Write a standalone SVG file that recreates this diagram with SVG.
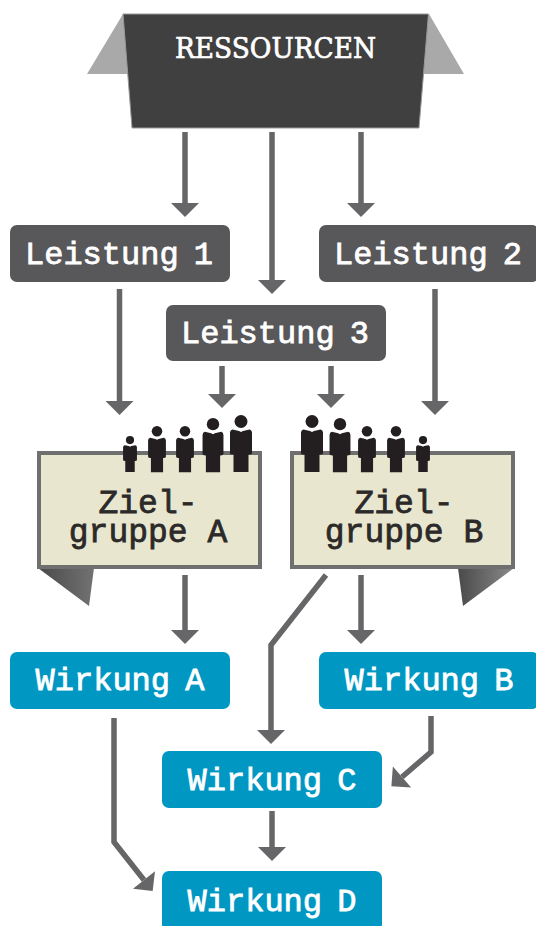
<svg xmlns="http://www.w3.org/2000/svg" width="536" height="926" viewBox="0 0 536 926">
<style>
.lnk{fill:none;stroke:#666668;stroke-width:5.5;marker-end:url(#ah)}
.box{stroke:none}
.dark{fill:#58585a}
.blue{fill:#0098c3}
.lab{font-family:"Liberation Mono",monospace;font-size:32px;fill:#fff;stroke:#fff;stroke-width:.8;text-anchor:middle;word-spacing:-4px}
.zg{fill:#e9e6cf;stroke:#6f6f70;stroke-width:4}
.zt{font-family:"Liberation Mono",monospace;font-size:33px;fill:#2b2a29;stroke:#2b2a29;stroke-width:.8;text-anchor:middle}
.p{fill:#231f20}
</style>
<defs>
<marker id="ah" markerUnits="userSpaceOnUse" markerWidth="30" markerHeight="30" refX="1" refY="15" orient="auto">
<path d="M1 1L15 15L1 29Z" fill="#666668"/>
</marker>
<linearGradient id="fa" x1="0" x2="1" y1="0" y2="0"><stop offset="0" stop-color="#4a4a4b"/><stop offset="1" stop-color="#727273"/></linearGradient>
<linearGradient id="fb" x1="1" x2="0" y1="0" y2="0"><stop offset="0" stop-color="#8a8a8b"/><stop offset="1" stop-color="#4a4a4b"/></linearGradient>
<g id="person"><circle cx="0" cy="6.500" r="6.500"/><path d="M-8.500 14.500L-2 16L0 17L2 16L8.500 14.500Q11 15 11 18V38Q11 39.500 8 39.500H7.500V57H-7.500V39.500H-8Q-11 39.500-11 38V18Q-11 15-8.500 14.500Z"/></g>
</defs>
<g id="ressourcen">
<path d="M123 14L87 74H130ZM429 14L464 74H420Z" fill="#a9a9a9"/>
<path d="M123 14H428.500L419 128H132Z" fill="#404040" stroke="#9a9a9a" stroke-width="1"/>
<text x="275.500" y="58" font-family="'DejaVu Serif',serif" font-size="27" fill="#fff" stroke="#fff" stroke-width=".7" text-anchor="middle" textLength="201" lengthAdjust="spacingAndGlyphs">RESSOURCEN</text>
</g>
<g id="connectors">
<path class="lnk" d="M185 132V203"/>
<path class="lnk" d="M272 132V280"/>
<path class="lnk" d="M361 132V203"/>
<path class="lnk" d="M119.500 289V401"/>
<path class="lnk" d="M222 366V394"/>
<path class="lnk" d="M331 366V394"/>
<path class="lnk" d="M435 289V401"/>
<path class="lnk" d="M185 575V630"/>
<path class="lnk" d="M361 575V630"/>
<path class="lnk" d="M326 575L271 645V730"/>
<path class="lnk" d="M431 716V752L402 777"/>
<path class="lnk" d="M272 811V847"/>
<path class="lnk" d="M114 718V842L144 880"/>
</g>
<g id="leistung1"><rect class="box dark" x="10" y="225" width="220" height="57" rx="7"/><text class="lab" x="119" y="264">Leistung 1</text></g>
<g id="leistung2"><rect class="box dark" x="319" y="225" width="220" height="57" rx="7"/><text class="lab" x="428" y="264">Leistung 2</text></g>
<g id="leistung3"><rect class="box dark" x="166" y="305" width="220" height="56" rx="7"/><text class="lab" x="275" y="343">Leistung 3</text></g>
<g id="zielgruppeA">
<path d="M38 568H94L89 606Z" fill="url(#fa)"/>
<rect class="zg" x="39" y="453" width="221" height="114"/>
<text class="zt" x="148" y="513">Ziel-</text>
<text class="zt" x="148" y="542">gruppe A</text>
<g class="p">
<use href="#person" transform="translate(130 436) scale(.63)"/>
<use href="#person" transform="translate(157 426) scale(.81)"/>
<use href="#person" transform="translate(185 426) scale(.81)"/>
<use href="#person" transform="translate(213 418) scale(.95)"/>
<use href="#person" transform="translate(241 415)"/>
</g>
</g>
<g id="zielgruppeB">
<path d="M514 568H458L463 606Z" fill="url(#fb)"/>
<rect class="zg" x="292" y="453" width="221" height="114"/>
<text class="zt" x="404" y="513">Ziel-</text>
<text class="zt" x="404" y="542">gruppe B</text>
<g class="p">
<use href="#person" transform="translate(312 415)"/>
<use href="#person" transform="translate(340 418) scale(.95)"/>
<use href="#person" transform="translate(367 426) scale(.81)"/>
<use href="#person" transform="translate(396 426) scale(.81)"/>
<use href="#person" transform="translate(423 436) scale(.63)"/>
</g>
</g>
<g id="wirkungA"><rect class="box blue" x="10" y="652" width="220" height="57" rx="7"/><text class="lab" x="120" y="690">Wirkung A</text></g>
<g id="wirkungB"><rect class="box blue" x="319" y="652" width="220" height="57" rx="7"/><text class="lab" x="429" y="690">Wirkung B</text></g>
<g id="wirkungC"><rect class="box blue" x="162" y="751" width="220" height="57" rx="7"/><text class="lab" x="272" y="790">Wirkung C</text></g>
<g id="wirkungD"><rect class="box blue" x="162" y="871" width="220" height="60" rx="7"/><text class="lab" x="272" y="911">Wirkung D</text></g>
</svg>
